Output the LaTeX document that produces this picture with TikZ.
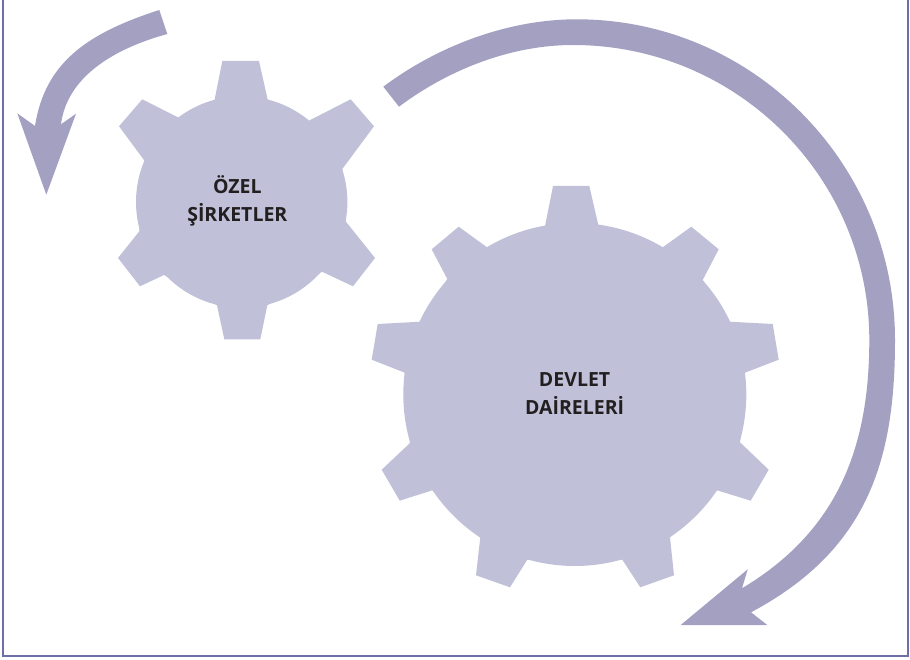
\documentclass[tikz,border=0pt]{standalone}
\usepackage{fontspec}
\setmainfont{Open Sans}
\definecolor{gearblue}{HTML}{C0C1D8}
\definecolor{arrowblue}{HTML}{A3A0C2}
\definecolor{frameblue}{HTML}{6F6FA8}
\definecolor{labelblack}{HTML}{231F20}
\tikzstyle{gearbody}=[fill=gearblue, draw=none]
\tikzstyle{bigarrow}=[fill=arrowblue, draw=none]
\tikzstyle{frameline}=[draw=frameblue, line width=2pt]
\tikzstyle{gearlabel}=[inner sep=0, outer sep=0, align=center, text=labelblack,
                       font=\fontsize{19.5}{28}\selectfont\bfseries]

\begin{document}
\begin{tikzpicture}[x=1pt, y=-1pt]
        \useasboundingbox (0, 0) rectangle (910, 660);
        \draw[frameline] (3.3, -5) -- (3.3, 656) -- (908, 656) -- (908, -5);
        % Small gear
        \fill[gearbody] (241.7, 202) circle[radius=105.7pt];
        \fill[gearbody] (222.3, 61) -- (259, 61) -- (268, 101) -- (308.3, 121) -- (350.7, 99.3)
            -- (374, 126.3) -- (342.3, 169) -- (346, 221.7) -- (375, 258) -- (353, 286.3)
            -- (322, 271.7) -- (267.3, 305.3) -- (260.3, 339.3) -- (224.3, 339.3) -- (217, 305.3)
            -- (164, 275) -- (140, 286.3) -- (118, 258) -- (139.3, 231.3) -- (144.7, 161)
            -- (119, 126.3) -- (142.3, 99.3) -- (178.7, 117.7) -- (214.3, 101) -- cycle;
        % Big gear
        \fill[gearbody] (574.8, 394.5) circle[radius=171.5pt];
        \fill[gearbody] (553, 186) -- (589.3, 186) -- (598.3, 225) -- (662.7, 247.3) -- (691.3, 226.7)
            -- (718.7, 249.3) -- (702.7, 280) -- (729.7, 321.7) -- (772.7, 324) -- (778.7, 359.7)
            -- (745, 372.7) -- (740, 442.3) -- (768.7, 469.7) -- (750.7, 500.7) -- (717, 490.3)
            -- (670, 537.3) -- (674, 575.3) -- (640.3, 587.3) -- (622.3, 559.7) -- (527.3, 559.7)
            -- (510, 587.3) -- (476, 575.3) -- (480.3, 537.3) -- (432.3, 490.3) -- (399.7, 500.7)
            -- (381.7, 469.7) -- (410, 443) -- (404.7, 372.7) -- (371.7, 359.7) -- (377.7, 324)
            -- (420, 321.7) -- (447.3, 279) -- (431.7, 249.3) -- (458.7, 226.7) -- (487, 247.3)
            -- (545, 226) -- cycle;
        % Small arrow
        \fill[bigarrow] (159.3, 10) .. controls (88, 33) and (45, 62) .. (35, 126)
            -- (17.3, 113.3) -- (46.3, 194.7) -- (76, 113.7) -- (61, 124.3)
            .. controls (66, 84) and (102, 52) .. (167.3, 34) -- cycle;
        % Big arrow
        \fill[bigarrow] (383.3, 86.7) .. controls (437.7, 45.9) and (508, 19.3) .. (576.7, 19.3)
            .. controls (752.5, 19.3) and (895, 163) .. (895, 340)
            .. controls (895, 460) and (868, 550) .. (751, 612.3)
            -- (767.3, 625) -- (680.7, 625) -- (747.7, 569.3) -- (742, 588.3)
            .. controls (836, 532) and (869.3, 450) .. (869.3, 340)
            .. controls (869.3, 177) and (736.6, 45) .. (573, 45)
            .. controls (511, 45) and (448.6, 69.5) .. (399, 106.7) -- cycle;
        \node[gearlabel] (ozel)   at (237.3, 200.5) {ÖZEL\\ŞİRKETLER};
        \node[gearlabel] (devlet) at (574.6, 393.5) {DEVLET\\DAİRELERİ};
    \end{tikzpicture}
\end{document}
